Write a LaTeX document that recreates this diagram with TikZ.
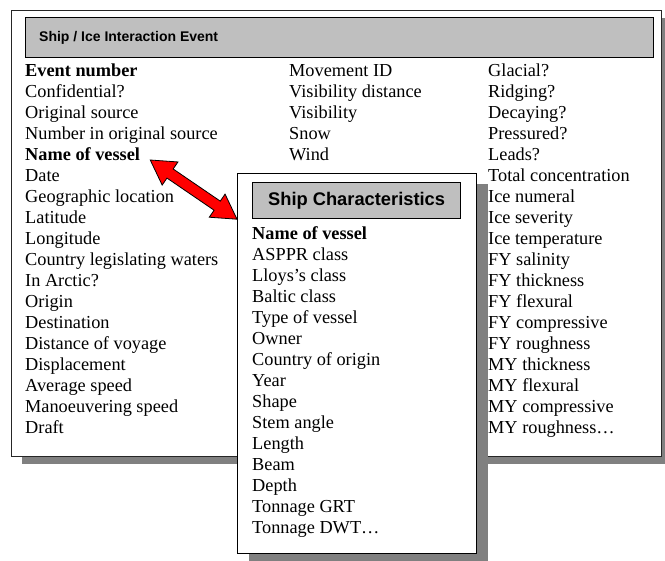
\documentclass[tikz,border=0pt]{standalone}
\usepackage{fontspec}
\setmainfont{Liberation Serif}
\setsansfont{Liberation Sans}
\usetikzlibrary{calc,positioning,shadows}

\begin{document}
\begin{tikzpicture}
[x=1pt,y=-1pt]
\tikzset{
	panel/.style = {draw=black!85, fill=white, line width=1pt, anchor=north west, inner sep=0,
		drop shadow={shadow xshift=10pt, shadow yshift=-8pt, fill=black!50, opacity=1}},
	card/.style = {draw=black, fill=white, line width=1.2pt, anchor=north west, inner sep=0,
		drop shadow={shadow xshift=11pt, shadow yshift=-10pt, fill=black!50, opacity=1}},
	titlebar/.style = {draw=black, fill=black!25, line width=1.2pt, anchor=north west, inner sep=0},
	entry/.style = {anchor=base west, inner sep=0, font={\fontsize{18.3}{21}\selectfont}},
	heading/.style = {inner sep=0, font={\sffamily\bfseries\fontsize{18.3}{21}\selectfont}},
	smallheading/.style = {inner sep=0, anchor=west, font={\sffamily\bfseries\fontsize{14}{17}\selectfont}}
}
\useasboundingbox (0,0) rectangle (665,561);

\node[panel, minimum width=650pt, minimum height=446pt] (event) at (11,10) {};
\node[titlebar, minimum width=628pt, minimum height=40pt] (eventbar) at (25,17) {};
\node[smallheading] (eventtitle) at ($(eventbar.west)+(14,0)$) {Ship / Ice Interaction Event};

\foreach \t [count=\i from 0] in {\textbf{Event number}, Confidential?, Original source,
	Number in original source, \textbf{Name of vessel}, Date, Geographic location, Latitude,
	Longitude, Country legislating waters, In Arctic?, Origin, Destination, Distance of voyage,
	Displacement, Average speed, Manoeuvering speed, Draft}
	\node[entry] (left-\i) at (25,{77+21*\i}) {\t};

\foreach \t [count=\i from 0] in {Movement ID, Visibility distance, Visibility, Snow, Wind}
	\node[entry] (mid-\i) at (289,{77+21*\i}) {\t};

\foreach \t [count=\i from 0] in {Glacial?, Ridging?, Decaying?, Pressured?, Leads?,
	Total concentration, Ice numeral, Ice severity, Ice temperature, FY salinity, FY thickness,
	FY flexural, FY compressive, FY roughness, MY thickness, MY flexural, MY compressive,
	MY roughness…}
	\node[entry] (right-\i) at (488,{77+21*\i}) {\t};

\node[card, minimum width=239pt, minimum height=380pt] (ship) at (237,173) {};
\node[titlebar, minimum width=208pt, minimum height=36pt] (shipbar) at (252,182) {};
\node[heading] (shiptitle) at (shipbar.center) {Ship Characteristics};

\foreach \t [count=\i from 0] in {\textbf{Name of vessel}, ASPPR class, Lloys’s class,
	Baltic class, Type of vessel, Owner, Country of origin, Year, Shape, Stem angle, Length,
	Beam, Depth, Tonnage GRT, Tonnage DWT…}
	\node[entry] (ship-\i) at (252,{240+21*\i}) {\t};

\coordinate (a) at ($(left-4.base east)+(10,-1)$);
\coordinate (b) at (ship.west |- shipbar.south);
\coordinate (a1) at ($(a)!24pt!(b)$);
\coordinate (b1) at ($(b)!24pt!(a)$);
\filldraw[fill=red, draw=black, line width=0.8pt, line join=miter]
	(a) -- ($(a1)!14pt!90:(b)$) -- ($(a1)!5.5pt!90:(b)$) -- ($(b1)!5.5pt!90:(b)$)
	-- ($(b1)!14pt!90:(b)$) -- (b) -- ($(b1)!14pt!-90:(b)$) -- ($(b1)!5.5pt!-90:(b)$)
	-- ($(a1)!5.5pt!-90:(b)$) -- ($(a1)!14pt!-90:(b)$) -- cycle;
\end{tikzpicture}
\end{document}
